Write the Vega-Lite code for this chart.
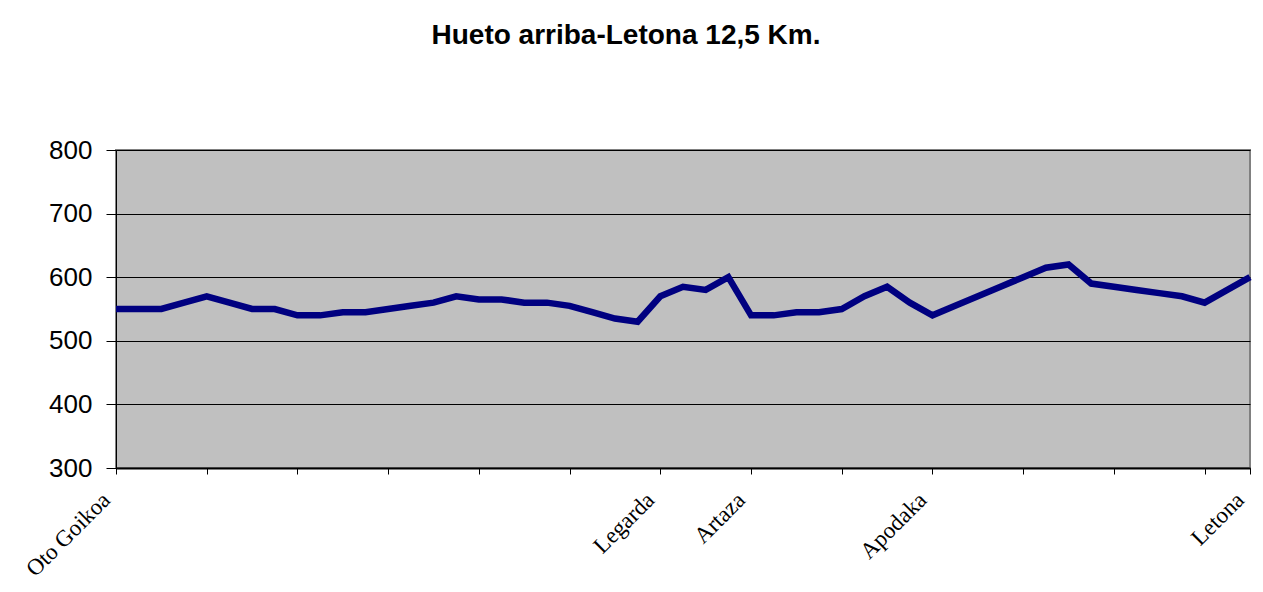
{
  "$schema": "https://vega.github.io/schema/vega-lite/v6.json",
  "width": 1134,
  "height": 318,
  "autosize": {"type": "none"},
  "padding": {"left": 116, "top": 150, "right": 13, "bottom": 124},
  "background": "white",
  "title": {
    "text": "Hueto arriba-Letona 12,5 Km.",
    "font": "Liberation Sans",
    "fontSize": 28,
    "fontWeight": "bold",
    "color": "black",
    "anchor": "middle",
    "dx": -57,
    "offset": 65,
    "baseline": "alphabetic"
  },
  "data": {
    "values": [
      {"i": 0, "elev": 550}, {"i": 1, "elev": 550}, {"i": 2, "elev": 550}, {"i": 3, "elev": 560},
      {"i": 4, "elev": 570}, {"i": 5, "elev": 560}, {"i": 6, "elev": 550}, {"i": 7, "elev": 550},
      {"i": 8, "elev": 540}, {"i": 9, "elev": 540}, {"i": 10, "elev": 545}, {"i": 11, "elev": 545},
      {"i": 12, "elev": 550}, {"i": 13, "elev": 555}, {"i": 14, "elev": 560}, {"i": 15, "elev": 570},
      {"i": 16, "elev": 565}, {"i": 17, "elev": 565}, {"i": 18, "elev": 560}, {"i": 19, "elev": 560},
      {"i": 20, "elev": 555}, {"i": 21, "elev": 545}, {"i": 22, "elev": 535}, {"i": 23, "elev": 530},
      {"i": 24, "elev": 570}, {"i": 25, "elev": 585}, {"i": 26, "elev": 580}, {"i": 27, "elev": 600},
      {"i": 28, "elev": 540}, {"i": 29, "elev": 540}, {"i": 30, "elev": 545}, {"i": 31, "elev": 545},
      {"i": 32, "elev": 550}, {"i": 33, "elev": 570}, {"i": 34, "elev": 585}, {"i": 35, "elev": 560},
      {"i": 36, "elev": 540}, {"i": 37, "elev": 555}, {"i": 38, "elev": 570}, {"i": 39, "elev": 585},
      {"i": 40, "elev": 600}, {"i": 41, "elev": 615}, {"i": 42, "elev": 620}, {"i": 43, "elev": 590},
      {"i": 44, "elev": 585}, {"i": 45, "elev": 580}, {"i": 46, "elev": 575}, {"i": 47, "elev": 570},
      {"i": 48, "elev": 560}, {"i": 49, "elev": 580}, {"i": 50, "elev": 600}
    ]
  },
  "mark": {"type": "line", "color": "#000080", "strokeWidth": 6.5},
  "encoding": {
    "x": {
      "field": "i",
      "type": "quantitative",
      "scale": {"domain": [0, 50], "nice": false, "zero": false},
      "axis": {
        "title": null,
        "grid": false,
        "values": [0, 4, 8, 12, 16, 20, 24, 28, 32, 36, 40, 44, 48, 50],
        "labelExpr": "datum.value == 0 ? 'Oto Goikoa' : datum.value == 24 ? 'Legarda' : datum.value == 28 ? 'Artaza' : datum.value == 36 ? 'Apodaka' : datum.value == 50 ? 'Letona' : ''",
        "domainColor": "#000000",
        "domainWidth": 2,
        "tickColor": "#000000",
        "tickSize": 6,
        "labelFont": "Liberation Serif",
        "labelFontSize": 23,
        "labelColor": "#000000",
        "labelAngle": -45,
        "labelAlign": "right",
        "labelBaseline": "alphabetic",
        "labelPadding": 27,
        "labelOffset": -5,
        "labelOverlap": false,
        "labelFlush": false,
        "labelBound": false
      }
    },
    "y": {
      "field": "elev",
      "type": "quantitative",
      "scale": {"domain": [300, 800], "nice": false, "zero": false},
      "axis": {
        "title": null,
        "values": [300, 400, 500, 600, 700, 800],
        "grid": true,
        "gridColor": "#000000",
        "gridWidth": 1,
        "domainColor": "#000000",
        "domainWidth": 1,
        "tickColor": "#000000",
        "tickSize": 10,
        "labelFont": "Liberation Sans",
        "labelFontSize": 26,
        "labelColor": "#000000",
        "labelPadding": 14
      }
    }
  },
  "config": {
    "view": {"fill": "#C0C0C0", "stroke": "#808080", "strokeWidth": 2}
  }
}
